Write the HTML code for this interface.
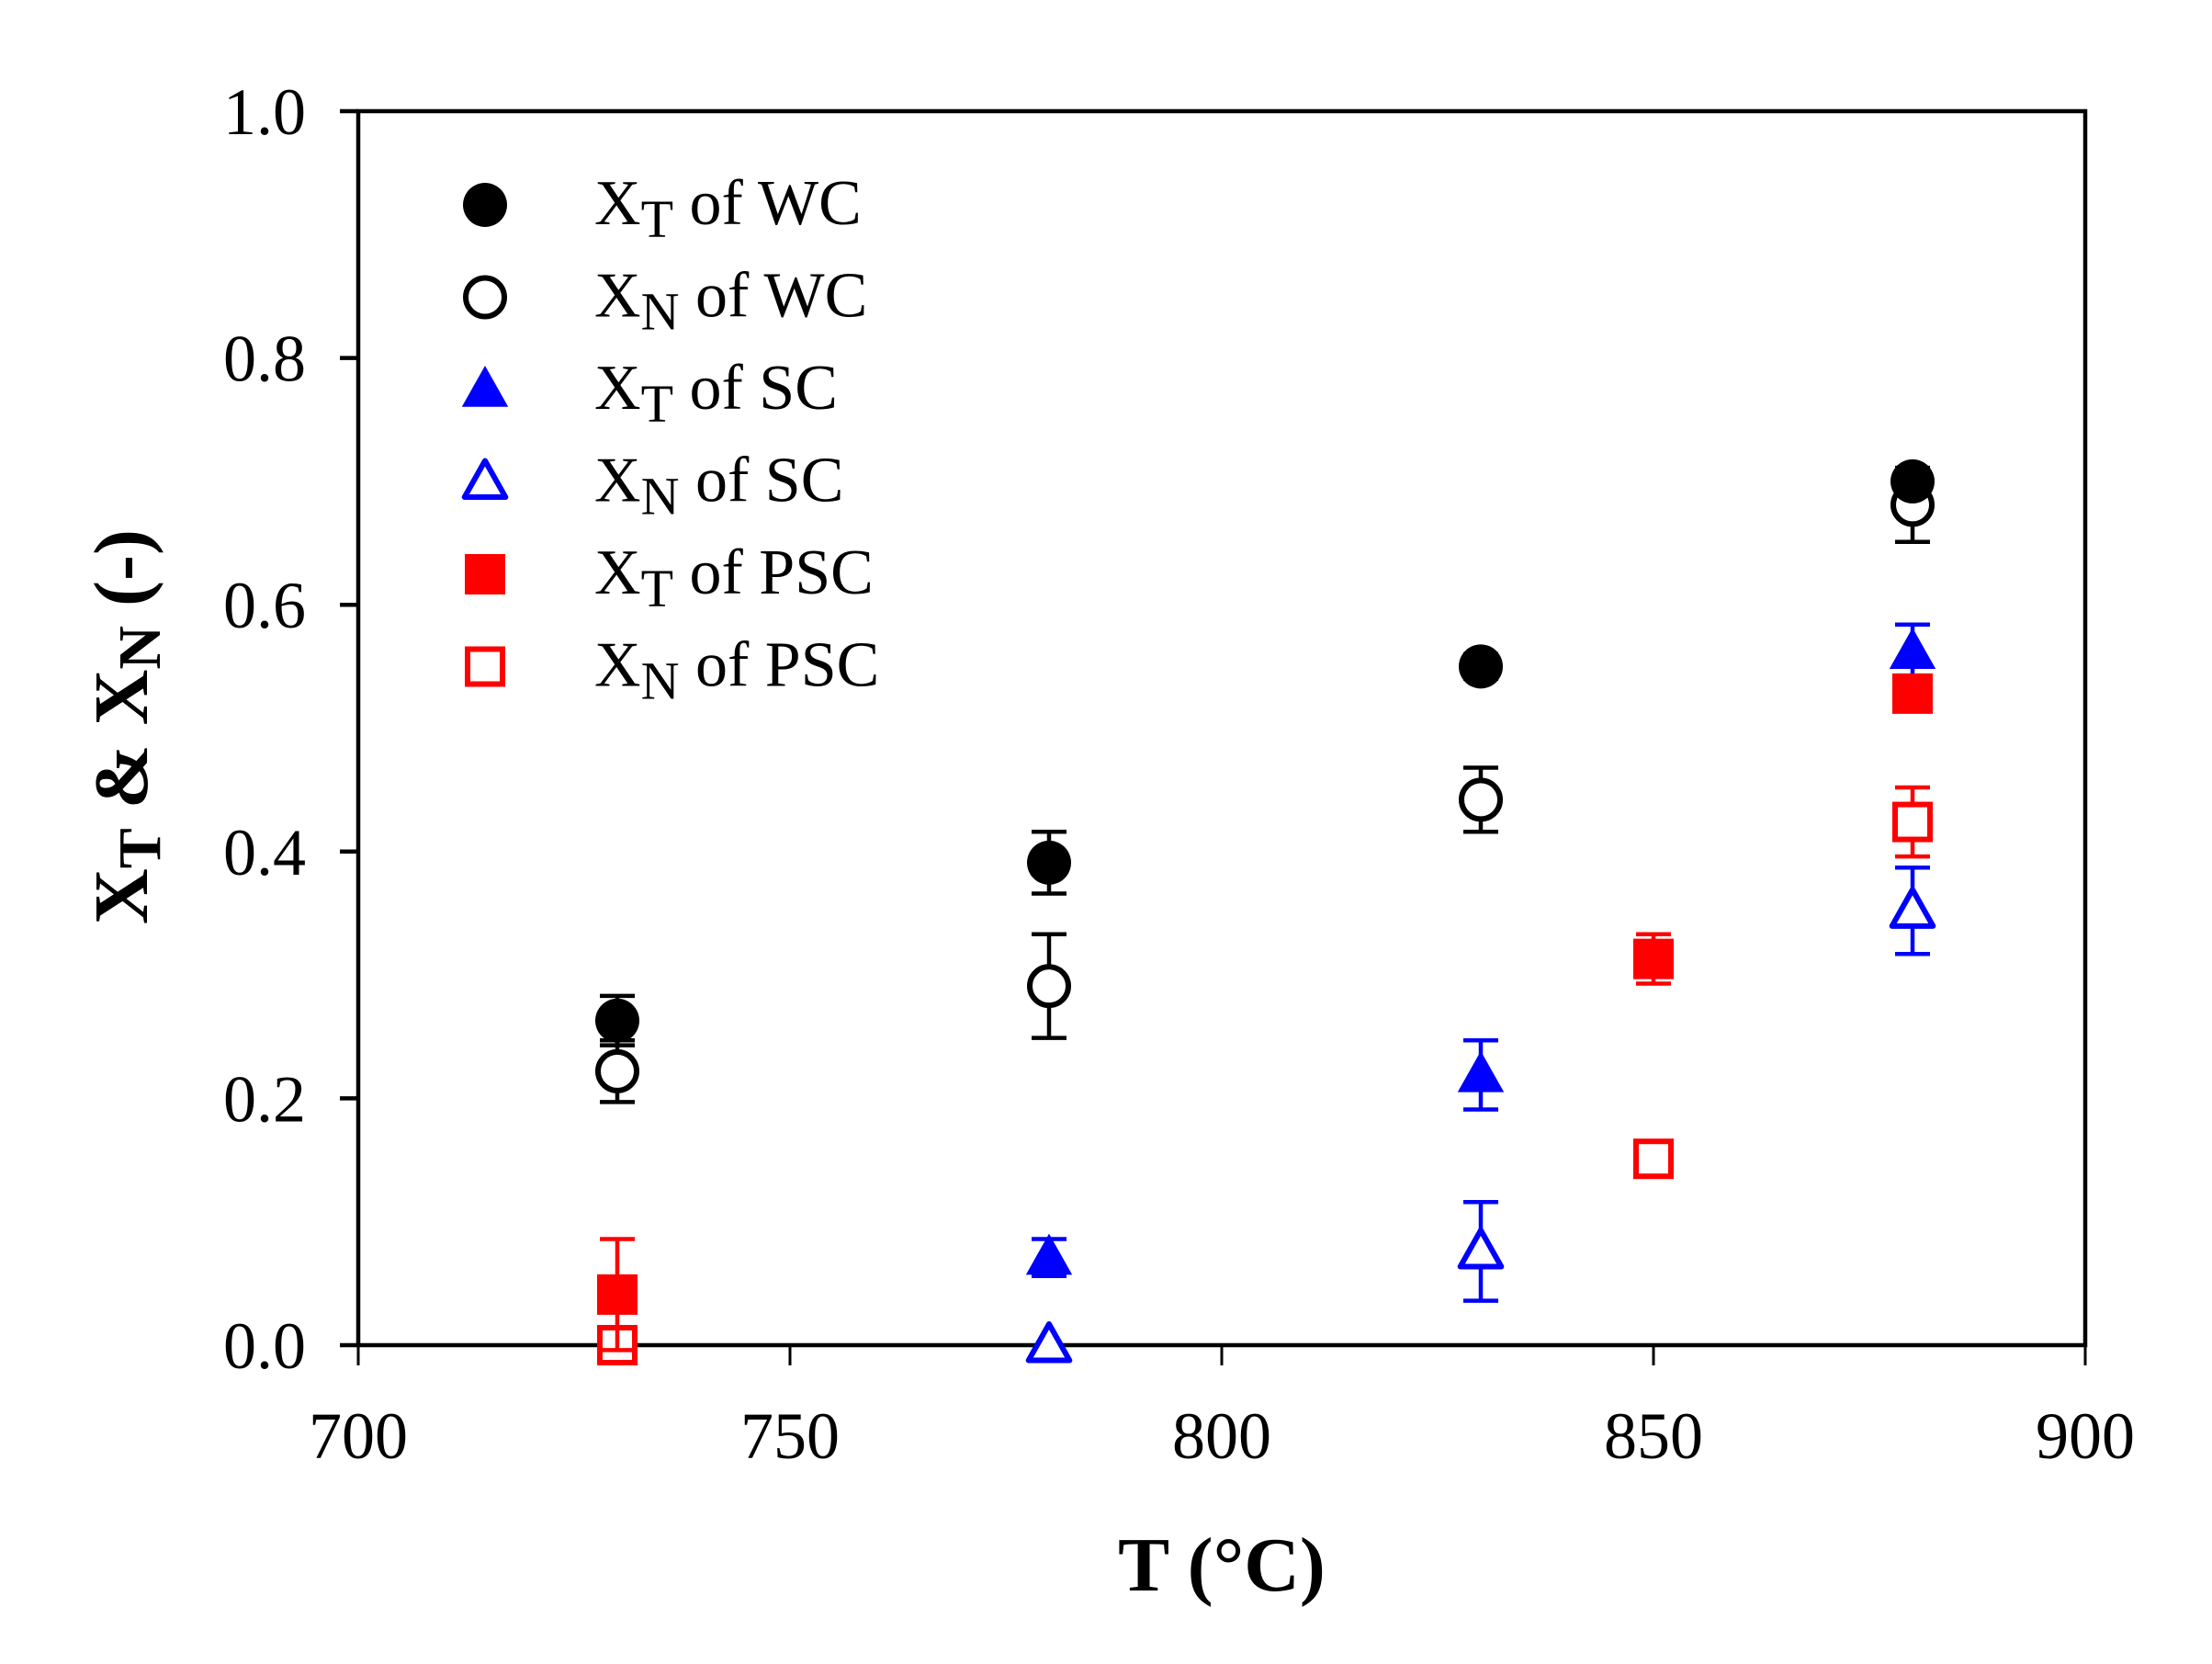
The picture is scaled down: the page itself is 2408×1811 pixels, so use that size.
<!DOCTYPE html>
<html><head><meta charset="utf-8">
<style>
html,body{margin:0;padding:0;background:#fff;}
svg{display:block;font-family:"Liberation Serif","Times New Roman",serif;}
</style></head>
<body>
<svg id="chart" width="2408" height="1811" viewBox="0 0 2408 1811" xmlns="http://www.w3.org/2000/svg">
<g id="axes"></g>
<g id="marks"></g>
<g id="legend"></g>
<text x="1330" y="1731" font-size="84" font-weight="bold" text-anchor="middle">T (°C)</text>
<text transform="translate(160,791) rotate(-90)" font-size="84" font-weight="bold" text-anchor="middle">X<tspan font-size="66" dy="14">T</tspan><tspan dy="-14"> &amp; X</tspan><tspan font-size="66" dy="14">N</tspan><tspan dy="-14"> (-)</tspan></text>
</svg>
<script>
const xTicks = [700, 750, 800, 850, 900];
const yTicks = [0.0, 0.2, 0.4, 0.6, 0.8, 1.0];
const wcT = [730, 780, 830, 880];
const wcXT = [0.263, 0.391, 0.55, 0.70];
const wcXTerr = [0.02, 0.025, 0.01, 0.01];
const wcXN = [0.222, 0.291, 0.442, 0.681];
const wcXNerr = [0.025, 0.042, 0.026, 0.03];
const scT = [780, 830, 880];
const scXT = [0.071, 0.219, 0.562];
const scXTerr = [0.015, 0.028, 0.022];
const scNT = [780, 830, 880];
const scXN = [0.0, 0.076, 0.352];
const scXNerr = [0.0, 0.04, 0.035];
const pscT = [730, 850, 880];
const pscXT = [0.041, 0.313, 0.528];
const pscXTerr = [0.045, 0.02, 0.01];
const pscNT = [730, 850, 880];
const pscXN = [0.0, 0.151, 0.424];
const pscXNerr = [0.0, 0.0, 0.028];

const NS = "http://www.w3.org/2000/svg";
const X0 = 390, X1 = 2270, Y0 = 1464, Y1 = 121;
function xs(v){ return X0 + (v - 700) / 200 * (X1 - X0); }
function ys(v){ return Y0 - v / 1.0 * (Y0 - Y1); }
function mk(tag, attrs, parent){
  const e = document.createElementNS(NS, tag);
  for (const k in attrs) e.setAttribute(k, attrs[k]);
  parent.appendChild(e);
  return e;
}
const axes = document.getElementById('axes');
const marks = document.getElementById('marks');
const legend = document.getElementById('legend');

const frame = mk('rect', {x:X0, y:Y1, width:X1-X0, height:Y0-Y1, fill:'none', stroke:'#000', 'stroke-width':4.5}, axes);



xTicks.forEach(t => {
  const l = mk('line', {x1:xs(t), x2:xs(t), y1:Y0, y2:Y0+22, stroke:'#000', 'stroke-width':3}, axes);
  
  
  const tx = mk('text', {x:xs(t), y:1587, 'font-size':72, 'text-anchor':'middle'}, axes);
  tx.textContent = t;
  
  
});
yTicks.forEach(t => {
  const l = mk('line', {x1:X0-20, x2:X0, y1:ys(t), y2:ys(t), stroke:'#000', 'stroke-width':4.5}, axes);
  
  
  const tx = mk('text', {x:333, y:ys(t)+25, 'font-size':72, 'text-anchor':'end'}, axes);
  tx.textContent = t.toFixed(1);
  
  
});

function errbar(x, v, e, color){
  if (!e) return;
  const g = mk('g', {stroke:color, 'stroke-width':4.5}, marks);
  
  
  const cx = xs(x), a = ys(v+e), b = ys(v-e);
  mk('line', {x1:cx, x2:cx, y1:a, y2:b}, g);
  mk('line', {x1:cx-19, x2:cx+19, y1:a, y2:a}, g);
  mk('line', {x1:cx-19, x2:cx+19, y1:b, y2:b}, g);
}
function marker(shape, filled, color, cx, cy, parent){
  const fill = filled ? color : '#fff';
  const sw = filled ? 0 : 6;
  let e;
  if (shape === 'circle') e = mk('circle', {cx:cx, cy:cy, r: filled ? 24 : 21, fill:fill, stroke:color, 'stroke-width':sw}, parent);
  else if (shape === 'tri') {
    const h = filled ? 26 : 23;
    e = mk('polygon', {points:`${cx},${cy-h} ${cx+h*0.97},${cy+h*0.72} ${cx-h*0.97},${cy+h*0.72}`, fill:fill, stroke:color, 'stroke-width':sw, 'stroke-linejoin':'round'}, parent);
  } else {
    const s = filled ? 22 : 19;
    e = mk('rect', {x:cx-s, y:cy-s, width:2*s, height:2*s, fill:fill, stroke:color, 'stroke-width':sw}, parent);
  }
  return e;
}
function series(name, T, V, E, shape, filled, color){
  T.forEach((t,i) => errbar(t, V[i], E[i], color));
  T.forEach((t,i) => {
    const m = marker(shape, filled, color, xs(t), ys(V[i]), marks);
    
    
  });
}
series('xn-wc', wcT, wcXN, wcXNerr, 'circle', false, '#000');
series('xt-wc', wcT, wcXT, wcXTerr, 'circle', true, '#000');
series('xn-sc', scNT, scXN, scXNerr, 'tri', false, '#0000ff');
series('xt-sc', scT, scXT, scXTerr, 'tri', true, '#0000ff');
series('xn-psc', pscNT, pscXN, pscXNerr, 'sq', false, '#ff0000');
series('xt-psc', pscT, pscXT, pscXTerr, 'sq', true, '#ff0000');

const legItems = [
  ['circle', true, '#000', 'T', 'WC'],
  ['circle', false, '#000', 'N', 'WC'],
  ['tri', true, '#0000ff', 'T', 'SC'],
  ['tri', false, '#0000ff', 'N', 'SC'],
  ['sq', true, '#ff0000', 'T', 'PSC'],
  ['sq', false, '#ff0000', 'N', 'PSC']
];
legItems.forEach((it, i) => {
  const y = 223 + i * 100.5;
  const g = mk('g', {}, legend);
  
  
  marker(it[0], it[1], it[2], 528, y, g);
  const tx = mk('text', {x:647, y:y+21, 'font-size':70}, g);
  tx.innerHTML = `X<tspan font-size="58" dy="14">${it[3]}</tspan><tspan dy="-14"> of ${it[4]}</tspan>`;
});
</script>
</body></html>
